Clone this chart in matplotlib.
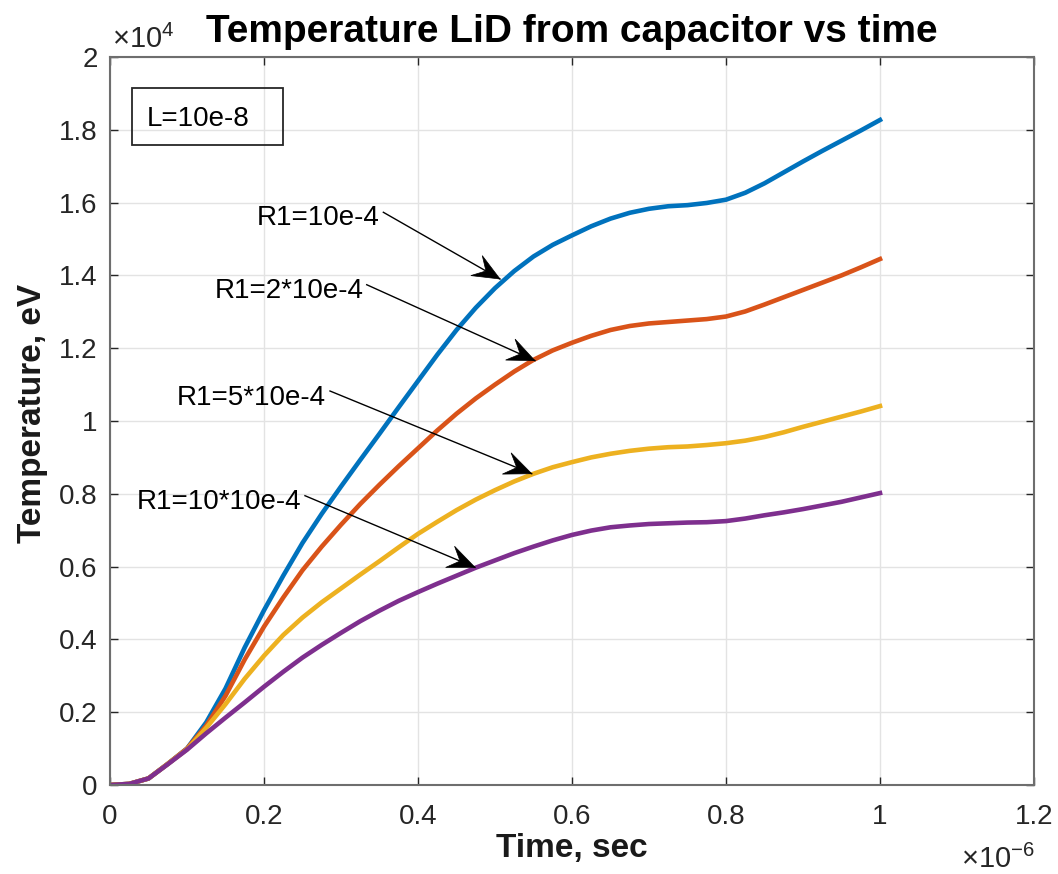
import numpy as np
import matplotlib
matplotlib.use("Agg")
import matplotlib.pyplot as plt
from matplotlib.patches import Polygon, Rectangle
from matplotlib.ticker import FormatStrFormatter

plt.rcParams["font.family"] = ["Liberation Sans", "DejaVu Sans"]
plt.rcParams["mathtext.fontset"] = "custom"
plt.rcParams["mathtext.rm"] = "Liberation Sans"

# --- DATA (time in 1e-6 s, temperature in 1e4 eV) ---
time_us = [0, 0.025, 0.05, 0.075, 0.1, 0.125, 0.15, 0.175, 0.2, 0.225,
           0.25, 0.275, 0.3, 0.325, 0.35, 0.375, 0.4, 0.425, 0.45, 0.475,
           0.5, 0.525, 0.55, 0.575, 0.6, 0.625, 0.65, 0.675, 0.7, 0.725,
           0.75, 0.775, 0.8, 0.825, 0.85, 0.875, 0.9, 0.925, 0.95, 0.975, 1.0]

temp_r1_1 = [0, 0.003, 0.018, 0.058, 0.100, 0.172, 0.265, 0.378, 0.480, 0.575,
             0.665, 0.745, 0.820, 0.893, 0.965, 1.038, 1.110, 1.182, 1.250, 1.311,
             1.365, 1.412, 1.452, 1.484, 1.510, 1.535, 1.556, 1.572, 1.583, 1.590,
             1.593, 1.599, 1.608, 1.627, 1.653, 1.683, 1.713, 1.742, 1.770, 1.798, 1.827]
temp_r1_2 = [0, 0.003, 0.018, 0.058, 0.100, 0.163, 0.245, 0.345, 0.435, 0.515,
             0.590, 0.655, 0.715, 0.772, 0.825, 0.876, 0.925, 0.974, 1.020, 1.062,
             1.100, 1.136, 1.168, 1.194, 1.215, 1.234, 1.250, 1.261, 1.268, 1.272,
             1.276, 1.280, 1.287, 1.301, 1.320, 1.340, 1.360, 1.380, 1.400, 1.422, 1.445]
temp_r1_5 = [0, 0.003, 0.018, 0.058, 0.098, 0.157, 0.222, 0.292, 0.355, 0.412,
             0.460, 0.502, 0.540, 0.578, 0.615, 0.653, 0.690, 0.723, 0.755, 0.784,
             0.810, 0.834, 0.855, 0.873, 0.887, 0.900, 0.910, 0.918, 0.924, 0.928,
             0.930, 0.934, 0.939, 0.946, 0.956, 0.969, 0.984, 0.998, 1.012, 1.026, 1.041]
temp_r1_10 = [0, 0.003, 0.018, 0.057, 0.097, 0.142, 0.185, 0.227, 0.270, 0.311,
              0.350, 0.385, 0.418, 0.450, 0.479, 0.506, 0.530, 0.553, 0.575, 0.597,
              0.617, 0.637, 0.655, 0.672, 0.687, 0.699, 0.708, 0.713, 0.717, 0.719,
              0.721, 0.722, 0.725, 0.732, 0.741, 0.749, 0.758, 0.768, 0.778, 0.790, 0.802]

series = [temp_r1_1, temp_r1_2, temp_r1_5, temp_r1_10]
colors = ["#0072BD", "#D95319", "#EDB120", "#7E2F8E"]

labels = ["R1=10e-4", "R1=2*10e-4", "R1=5*10e-4", "R1=10*10e-4"]
# text anchor (right, baseline), arrow tail, arrow tip -- data coords
label_pos = [(0.3506, 1.5385), (0.3290, 1.3379), (0.2805, 1.0448), (0.2489, 0.7582)]
arrow_tail = [(0.3550, 1.5734), (0.3334, 1.3744), (0.2857, 1.0824), (0.2532, 0.7948)]
arrow_tip = [(0.5065, 1.3901), (0.5519, 1.1657), (0.5477, 0.8552), (0.4740, 0.5980)]

xticks = [0, 0.2, 0.4, 0.6, 0.8, 1.0, 1.2]
yticks = [0, 0.2, 0.4, 0.6, 0.8, 1.0, 1.2, 1.4, 1.6, 1.8, 2.0]

# --- FIGURE ---
fig = plt.figure(figsize=(10.58, 8.74), dpi=100)
ax = fig.add_axes([0.10397, 0.10183, 0.87335, 0.83295])

for y, c in zip(series, colors):
    ax.plot(time_us, y, color=c, lw=3.3, solid_joinstyle="round")

ax.set_xlim(0, 1.2)
ax.set_ylim(0, 2)
ax.set_xticks(xticks)
ax.set_yticks(yticks)
ax.xaxis.set_major_formatter(FormatStrFormatter("%g"))
ax.yaxis.set_major_formatter(FormatStrFormatter("%g"))
ax.grid(True, color="#e3e3e3", lw=1.0)
ax.set_axisbelow(True)

ax.tick_params(direction="in", length=6, width=1, top=True, right=True,
               labelsize=20, labelcolor="#262626", color="#262626")
ax.tick_params(axis="x", pad=14)
ax.tick_params(axis="y", pad=9)
for s in ax.spines.values():
    s.set_color("#6e6e6e")
    s.set_linewidth(1.5)

ax.set_title("Temperature LiD from capacitor vs time", fontsize=28,
             fontweight="bold", pad=10.8)
ax.set_xlabel("Time, sec", fontsize=24, fontweight="bold", color="#1a1a1a")
ax.set_ylabel("Temperature, eV", fontsize=24, fontweight="bold", color="#1a1a1a")
ax.xaxis.set_label_coords(0.5, -0.066)
ax.yaxis.set_label_coords(-0.067, 0.511)

# exponent labels
ax.text(0.002, 1.0124, "×$10^{4}$", transform=ax.transAxes, fontsize=21,
        color="#262626", ha="left", va="baseline")
ax.text(0.921, -0.114, "×$10^{-6}$", transform=ax.transAxes, fontsize=21,
        color="#262626", ha="left", va="baseline")

# L box
ax.add_patch(Rectangle((0.0238, 0.879), 0.1634, 0.0784, transform=ax.transAxes,
                       fill=False, edgecolor="#262626", lw=1.3, zorder=6))
ax.text(0.040, 0.9055, "L=10e-8", transform=ax.transAxes, fontsize=20,
        ha="left", va="baseline", zorder=6)


def draw_arrow(tail, tip):
    ax.plot([tail[0], tip[0]], [tail[1], tip[1]], color="k", lw=1.0, zorder=5)
    p0 = ax.transData.transform(tail)
    p1 = ax.transData.transform(tip)
    u = (p1 - p0) / np.hypot(*(p1 - p0))
    n = np.array([-u[1], u[0]])
    L, W = 27, 11.5
    pts = [p1, p1 - L * u + W * n, p1 - 0.6 * L * u, p1 - L * u - W * n]
    pts = fig.transFigure.inverted().transform(pts)
    ax.add_patch(Polygon(pts, closed=True, transform=fig.transFigure,
                         facecolor="k", edgecolor="k", lw=0.5, clip_on=False, zorder=6))


for lab, pos, tail, tip in zip(labels, label_pos, arrow_tail, arrow_tip):
    ax.text(pos[0], pos[1], lab, fontsize=20, ha="right", va="baseline", zorder=6)
    draw_arrow(tail, tip)

fig.savefig("out.png", dpi=100, facecolor="white")
